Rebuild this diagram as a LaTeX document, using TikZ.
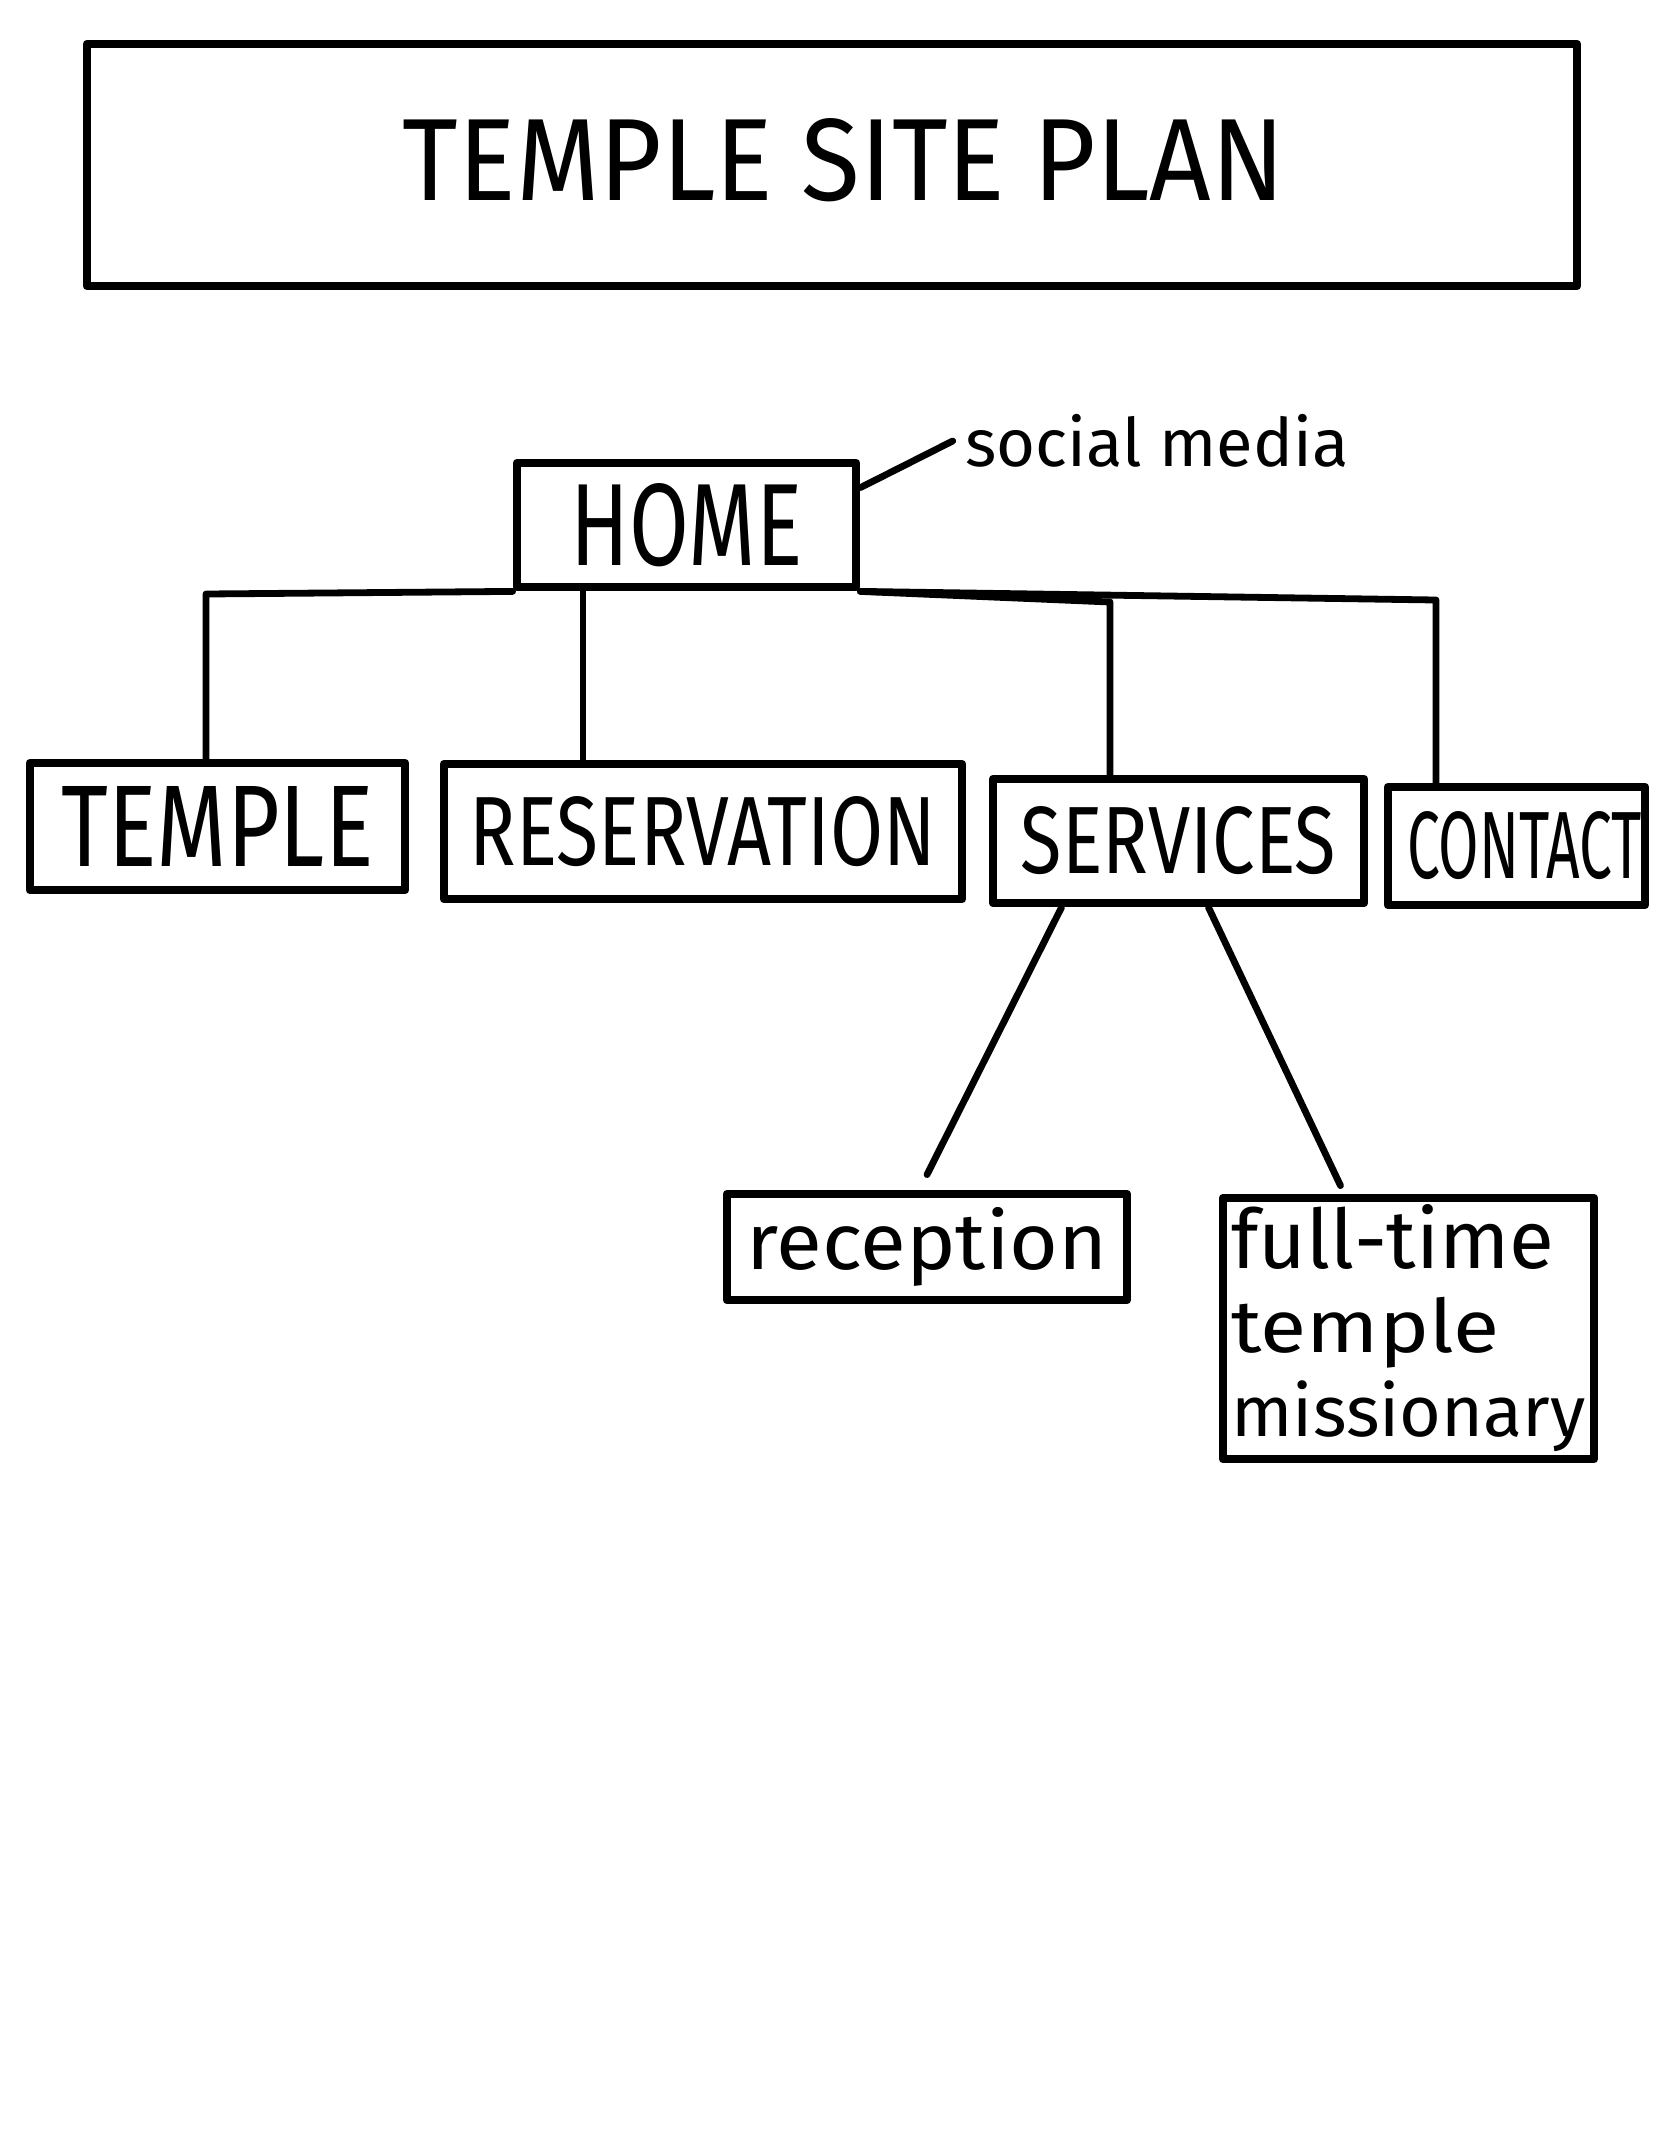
\documentclass[tikz,border=0pt]{standalone}
\usepackage{fontspec}
\setmainfont{Fira Sans}
\usetikzlibrary{calc}
% labels are stretched to fixed widths/heights (in pt)
\newcommand{\hand}[3]{\resizebox{#1pt}{#2pt}{#3}}
\newcommand{\handt}[3]{\resizebox*{#1pt}{#2pt}{#3}}
\newcommand{\handw}[2]{\resizebox{#1pt}{!}{#2}}

\begin{document}
\begin{tikzpicture}[x=0.25pt,y=-0.25pt,
  box/.style={draw, line width=2.2pt, inner sep=0pt, line join=round, fill=white},
  link/.style={line width=1.7pt, line cap=round, line join=round}]
\useasboundingbox (0,0) rectangle (1668,2154);
\fill[white] (0,0) rectangle (1668,2154);

% heading
\node[box, minimum width=372.5pt, minimum height=60.5pt] (title) at (832,165)
  {\raisebox{3pt}{\hspace*{6pt}\hand{220.5}{20.5}{TEMPLE SITE PLAN}}};

% site map
\node[box, minimum width=84.75pt, minimum height=31pt] (home) at (686.5,525)
  {\hand{58}{20.5}{HOME}};
\node[inner sep=3pt] (social) at (1157,441) {\handw{95.75}{social media}};

\node[box, minimum width=93.75pt, minimum height=31.75pt] (temple) at (217.5,826.5)
  {\hand{78}{20}{TEMPLE}};
\node[box, minimum width=129.5pt, minimum height=33.75pt] (reservation) at (703,831.5)
  {\hand{116.5}{17.25}{RESERVATION}};
\node[box, minimum width=92.75pt, minimum height=31pt] (services) at (1178.5,841)
  {\hand{78.75}{16.75}{SERVICES}};
\node[box, minimum width=64.25pt, minimum height=29.5pt] (contact) at (1516.5,846)
  {\hspace*{4pt}\hand{58.75}{16.75}{CONTACT}};

\node[box, minimum width=100pt, minimum height=26.5pt] (reception) at (927,1247)
  {\handt{90.25}{19.75}{reception}};
\node[box, minimum width=92.75pt, minimum height=65.25pt, align=left,
      font=\fontsize{10pt}{21pt}\selectfont] (ft) at (1408.5,1328.5)
  {\handt{80.75}{16.25}{full-time}\\\handt{67}{17.75}{temple}\\\handt{88.5}{17.75}{missionary}};

% connectors
\coordinate (tl) at (206,594);
\coordinate (rl) at (583,587);
\coordinate (sl) at (1110,602);
\coordinate (cl) at (1436,600);

\draw[link] (home.south west) -- (tl) -- (tl |- temple.north);
\draw[link] (rl) -- (rl |- reservation.north);
\draw[link] (home.south east) -- (sl) -- (sl |- services.north);
\draw[link] (home.south east) -- (cl) -- (cl |- contact.north);
\draw[link] ($(home.north east)+(0,29)$) -- (social.west);

\draw[link] ($(services.south)+(-117,0)$) -- ($(reception.north)+(0,-15)$);
\draw[link] ($(services.south)+(30,0)$) -- ($(ft.north)+(-68,-8)$);
\end{tikzpicture}
\end{document}
